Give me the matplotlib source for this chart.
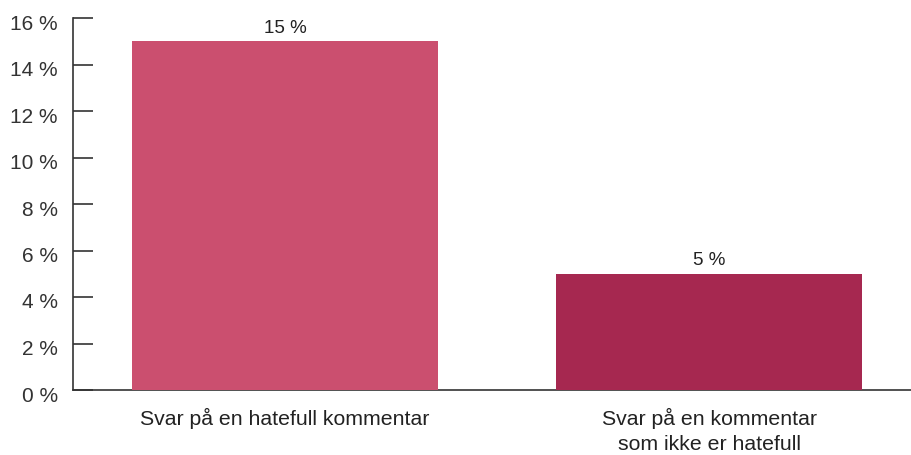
import matplotlib
matplotlib.use("Agg")
import numpy as np
from matplotlib import pyplot as plt
from matplotlib.transforms import ScaledTranslation

categories = ["Svar på en hatefull kommentar", "Svar på en kommentar\nsom ikke er hatefull"]
values = [15, 5]
bar_colors = ["#CB4F6F", "#A62850"]
yticks = [0, 2, 4, 6, 8, 10, 12, 14, 16]

plt.rcParams["font.family"] = ["Liberation Sans", "DejaVu Sans"]

fig = plt.figure(figsize=(9.11, 4.55), dpi=100)
ax = fig.add_axes([73/911, 65/455, 838/911, 372/455])

x = np.arange(len(categories))
bars = ax.bar(x, values, width=0.722, color=bar_colors, zorder=3)
for xi, v in zip(x, values):
    ax.text(xi, v + 0.2, f"{v} %", ha="center", va="bottom", fontsize=13.5, color="#222222")

ax.set_xlim(-0.5, 1.4764)
ax.set_ylim(0, 16)
ax.set_yticks(yticks)
ax.set_yticklabels([f"{t} %" for t in yticks], fontsize=15, color="#333333")
ax.set_xticks(x)
ax.set_xticklabels(categories, fontsize=15.3, color="#222222", linespacing=1.4)
ax.tick_params(axis="x", length=0, pad=13)
ax.tick_params(axis="y", direction="in", length=14.4, width=1.2, color="#333333", pad=11)

# tick labels sit a little below their ticks in the original
off = ScaledTranslation(0, -4/100, fig.dpi_scale_trans)
for lbl in ax.get_yticklabels():
    lbl.set_transform(lbl.get_transform() + off)

for s in ["top", "right"]:
    ax.spines[s].set_visible(False)
ax.spines["left"].set_color("#333333")
ax.spines["bottom"].set_color("#333333")
ax.spines["left"].set_linewidth(1.2)
ax.spines["bottom"].set_linewidth(1.2)

fig.savefig("out.png", dpi=100)
